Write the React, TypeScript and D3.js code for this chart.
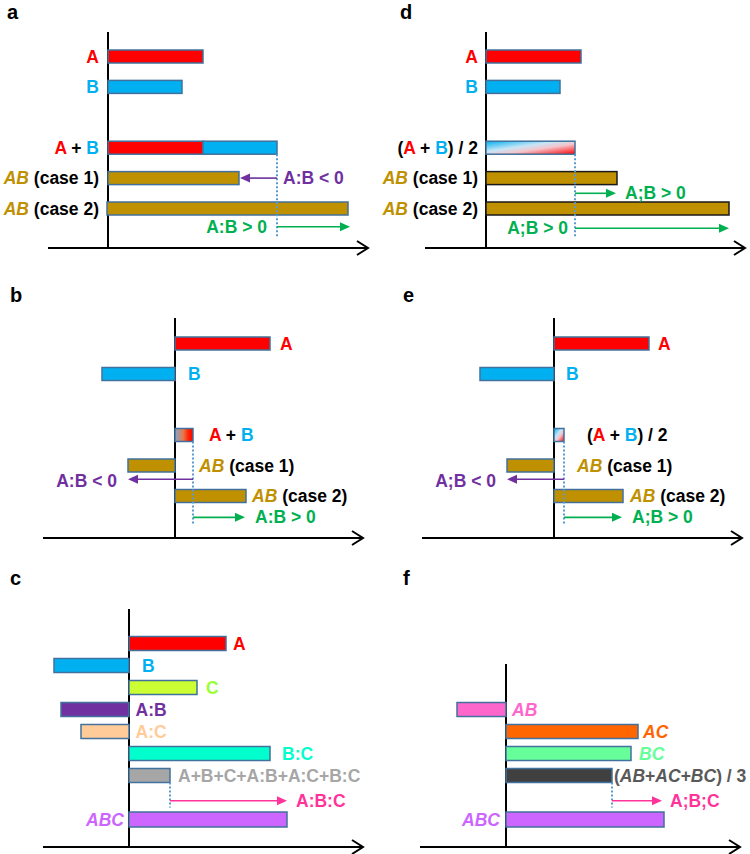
import React from "react";
import * as d3 from "d3";

// ---------------- DATA ----------------
// two-factor panels: rows = A, B, combined, AB case 1, AB case 2
const twoFactorSlots = [0, 1, 3, 4, 5];
const valuesA = [9.5, 7.4, 16.9, 13.1, 24.0];
const valuesD = [9.5, 7.4, 8.9, 13.1, 24.3];
const valuesB = [9.5, -7.3, 1.8, -4.7, 7.1];
const valuesE = [9.5, -7.4, 1.0, -4.7, 6.9];

// three-factor panels
const slotsC = [0, 1, 2, 3, 4, 5, 6, 8];
const namesC = ["A", "B", "C", "A:B", "A:C", "B:C", "A+B+C+A:B+A:C+B:C", "ABC"];
const valuesC = [9.7, -7.5, 6.8, -6.8, -4.8, 14.1, 4.1, 15.8];
const fillsC = ["#FF0000", "#00B0F0", "#CCFF33", "#7030A0", "#FFCC99", "#00FFCC", "#A6A6A6", "#CC66FF"];
const labelColorsC = ["#FF0000", "#00B0F0", "#99FF33", "#7030A0", "#FFCC99", "#00FFCC", "#A6A6A6", "#CC66FF"];

const slotsF = [3, 4, 5, 6, 8];
const namesF = ["AB", "AC", "BC", "(AB+AC+BC) / 3", "ABC"];
const valuesF = [-4.9, 13.2, 12.5, 10.6, 15.8];
const fillsF = ["#FF66CC", "#FF6600", "#66FF99", "#404040", "#CC66FF"];
const labelColorsF = ["#FF66CC", "#FF6600", "#66FF99", "#595959", "#CC66FF"];

// ---------------- STYLE ----------------
const FONT = "'Liberation Sans', Arial, Helvetica, sans-serif";
const FS = 17.5;
const RED = "#FF0000";
const BLUE = "#00B0F0";
const GOLD = "#BF9000";
const PURPLE = "#7030A0";
const GREEN = "#00B050";
const PINK = "#FF3399";
const DOT = "#5B9BD5";
const OUTLINE = "#41719C";
const BLACK = "#000000";

type Seg = { t: string; c: string; i?: boolean };

function Label({ x, y, anchor = "start", segs }: { x: number; y: number; anchor?: string; segs: Seg[] }) {
  return (
    <text x={x} y={y} textAnchor={anchor} fontFamily={FONT} fontWeight="bold" fontSize={FS} style={{ whiteSpace: "pre" }}>
      {segs.map((s, k) => (
        <tspan key={k} fill={s.c} fontStyle={s.i ? "italic" : "normal"}>
          {s.t}
        </tspan>
      ))}
    </text>
  );
}

function Bar({ x, y, v0 = 0, v, row, h, fill, stroke = OUTLINE }: any) {
  const a = x(v0);
  const b = x(v);
  return (
    <rect
      x={Math.min(a, b)}
      y={y(row) - h / 2}
      width={Math.abs(b - a)}
      height={h}
      fill={fill}
      stroke={stroke}
      strokeWidth={1.5}
    />
  );
}

function Arrow({ x1, x2, y, color }: { x1: number; x2: number; y: number; color: string }) {
  const d = Math.sign(x2 - x1);
  const hl = 10;
  const hw = 4.5;
  return (
    <g>
      <line x1={x1} x2={x2 - d * hl + d} y1={y} y2={y} stroke={color} strokeWidth={1.6} />
      <polygon points={`${x2},${y} ${x2 - d * hl},${y - hw} ${x2 - d * hl},${y + hw}`} fill={color} />
    </g>
  );
}

function Axes({ x, yTop, yBot }: { x: any; yTop: number; yBot: number }) {
  const [r0, r1] = x.range();
  return (
    <g>
      <line x1={x(0)} x2={x(0)} y1={yTop} y2={yBot} stroke={BLACK} strokeWidth={2} />
      <line x1={r0} x2={r1} y1={yBot} y2={yBot} stroke={BLACK} strokeWidth={2} />
      <path d={`M${r1 - 11},${yBot - 7} L${r1},${yBot} L${r1 - 11},${yBot + 7}`} fill="none" stroke={BLACK} strokeWidth={2} />
    </g>
  );
}

function Dotted({ x, y1, y2 }: { x: number; y1: number; y2: number }) {
  return <line x1={x} x2={x} y1={y1} y2={y2} stroke={DOT} strokeWidth={2} strokeDasharray="2 2" />;
}

function PanelLetter({ x, y, t }: { x: number; y: number; t: string }) {
  return (
    <text x={x} y={y} fontFamily={FONT} fontWeight="bold" fontSize={20} fill={BLACK}>
      {t}
    </text>
  );
}

const TY = 6; // text baseline offset from row centre

// ---------------- PANELS ----------------
function PanelA() {
  const x = d3.scaleLinear().domain([-6, 26]).range([48, 368]);
  const y = d3.scaleLinear().domain([0, 5]).range([56.5, 208.5]);
  const h = 13;
  const [a, b, tot, c1, c2] = valuesA;
  const s = twoFactorSlots;
  return (
    <g>
      <PanelLetter x={7} y={19} t="a" />
      <Axes x={x} yTop={32} yBot={248} />
      <Bar x={x} y={y} v={a} row={s[0]} h={h} fill={RED} />
      <Bar x={x} y={y} v={b} row={s[1]} h={h} fill={BLUE} />
      <Bar x={x} y={y} v={a} row={s[2]} h={h} fill={RED} />
      <Bar x={x} y={y} v0={a} v={tot} row={s[2]} h={h} fill={BLUE} />
      <Bar x={x} y={y} v={c1} row={s[3]} h={h} fill={GOLD} />
      <Bar x={x} y={y} v0={-0.1} v={c2} row={s[4]} h={h} fill={GOLD} />
      <Dotted x={x(tot)} y1={y(s[2]) + h / 2} y2={y(5.95)} />
      <Arrow x1={x(tot)} x2={x(c1) + 1} y={y(s[3])} color={PURPLE} />
      <Arrow x1={x(tot)} x2={x(c2) + 2} y={y(5.6)} color={GREEN} />
      <Label x={x(tot) + 6} y={y(s[3]) + TY} segs={[{ t: "A:B < 0", c: PURPLE }]} />
      <Label x={x(tot) - 10} y={y(5.6) + TY} anchor="end" segs={[{ t: "A:B > 0", c: GREEN }]} />
      <Label x={x(0) - 9} y={y(s[0]) + TY} anchor="end" segs={[{ t: "A", c: RED }]} />
      <Label x={x(0) - 9} y={y(s[1]) + TY} anchor="end" segs={[{ t: "B", c: BLUE }]} />
      <Label x={x(0) - 9} y={y(s[2]) + TY} anchor="end" segs={[{ t: "A", c: RED }, { t: " + ", c: BLACK }, { t: "B", c: BLUE }]} />
      <Label x={x(0) - 9} y={y(s[3]) + TY} anchor="end" segs={[{ t: "AB", c: GOLD, i: true }, { t: " (case 1)", c: BLACK }]} />
      <Label x={x(0) - 9} y={y(s[4]) + TY} anchor="end" segs={[{ t: "AB", c: GOLD, i: true }, { t: " (case 2)", c: BLACK }]} />
    </g>
  );
}

function PanelD() {
  const x = d3.scaleLinear().domain([-6.1, 25.9]).range([425, 745]);
  const y = d3.scaleLinear().domain([0, 5]).range([56.5, 208.5]);
  const h = 13;
  const [a, b, avg, c1, c2] = valuesD;
  const s = twoFactorSlots;
  return (
    <g>
      <PanelLetter x={400} y={19} t="d" />
      <Axes x={x} yTop={32} yBot={248} />
      <Bar x={x} y={y} v={a} row={s[0]} h={h} fill={RED} />
      <Bar x={x} y={y} v={b} row={s[1]} h={h} fill={BLUE} />
      <Bar x={x} y={y} v={avg} row={s[2]} h={h} fill="url(#gradDiag)" />
      <Bar x={x} y={y} v={c1} row={s[3]} h={h} fill={GOLD} stroke="#1a1a1a" />
      <Bar x={x} y={y} v={c2} row={s[4]} h={h} fill={GOLD} stroke="#1a1a1a" />
      <Dotted x={x(avg)} y1={y(s[2]) + h / 2} y2={y(5.95)} />
      <Arrow x1={x(avg)} x2={x(c1) - 1} y={y(4.5)} color={GREEN} />
      <Arrow x1={x(avg)} x2={x(c2)} y={y(5.65)} color={GREEN} />
      <Label x={x(c1) + 8} y={y(4.5) + TY} segs={[{ t: "A;B > 0", c: GREEN }]} />
      <Label x={x(avg) - 7} y={y(5.65) + TY} anchor="end" segs={[{ t: "A;B > 0", c: GREEN }]} />
      <Label x={x(0) - 8} y={y(s[0]) + TY} anchor="end" segs={[{ t: "A", c: RED }]} />
      <Label x={x(0) - 8} y={y(s[1]) + TY} anchor="end" segs={[{ t: "B", c: BLUE }]} />
      <Label
        x={x(0) - 8}
        y={y(s[2]) + TY}
        anchor="end"
        segs={[{ t: "(", c: BLACK }, { t: "A", c: RED }, { t: " + ", c: BLACK }, { t: "B", c: BLUE }, { t: ") / 2", c: BLACK }]}
      />
      <Label x={x(0) - 8} y={y(s[3]) + TY} anchor="end" segs={[{ t: "AB", c: GOLD, i: true }, { t: " (case 1)", c: BLACK }]} />
      <Label x={x(0) - 8} y={y(s[4]) + TY} anchor="end" segs={[{ t: "AB", c: GOLD, i: true }, { t: " (case 2)", c: BLACK }]} />
    </g>
  );
}

function PanelB() {
  const x = d3.scaleLinear().domain([-13.2, 18.8]).range([43, 363]);
  const y = d3.scaleLinear().domain([0, 5]).range([343.5, 496]);
  const h = 13;
  const [a, b, sum, c1, c2] = valuesB;
  const s = twoFactorSlots;
  return (
    <g>
      <PanelLetter x={10} y={302} t="b" />
      <Axes x={x} yTop={318} yBot={538} />
      <Bar x={x} y={y} v={a} row={s[0]} h={h} fill={RED} />
      <Bar x={x} y={y} v={b} row={s[1]} h={h} fill={BLUE} />
      <Bar x={x} y={y} v={sum} row={s[2]} h={h} fill="url(#gradH)" />
      <Bar x={x} y={y} v={c1} row={s[3]} h={h} fill={GOLD} />
      <Bar x={x} y={y} v={c2} row={s[4]} h={h} fill={GOLD} />
      <Dotted x={x(sum)} y1={y(s[2]) + h / 2} y2={y(5.95)} />
      <Arrow x1={x(sum)} x2={x(c1)} y={y(4.45)} color={PURPLE} />
      <Arrow x1={x(sum)} x2={x(c2) - 1} y={y(5.7)} color={GREEN} />
      <Label x={x(c1) - 11} y={y(4.45) + 8} anchor="end" segs={[{ t: "A:B < 0", c: PURPLE }]} />
      <Label x={x(c2) + 9} y={y(5.7) + TY} segs={[{ t: "A:B > 0", c: GREEN }]} />
      <Label x={x(a) + 10} y={y(s[0]) + TY} segs={[{ t: "A", c: RED }]} />
      <Label x={x(0) + 13} y={y(s[1]) + TY} segs={[{ t: "B", c: BLUE }]} />
      <Label x={x(sum) + 16} y={y(s[2]) + TY} segs={[{ t: "A", c: RED }, { t: " + ", c: BLACK }, { t: "B", c: BLUE }]} />
      <Label x={x(0) + 24} y={y(s[3]) + TY} segs={[{ t: "AB", c: GOLD, i: true }, { t: " (case 1)", c: BLACK }]} />
      <Label x={x(c2) + 6} y={y(s[4]) + TY} segs={[{ t: "AB", c: GOLD, i: true }, { t: " (case 2)", c: BLACK }]} />
    </g>
  );
}

function PanelE() {
  const x = d3.scaleLinear().domain([-13.2, 18.8]).range([422, 742]);
  const y = d3.scaleLinear().domain([0, 5]).range([343.5, 496]);
  const h = 13;
  const [a, b, avg, c1, c2] = valuesE;
  const s = twoFactorSlots;
  return (
    <g>
      <PanelLetter x={403} y={302} t="e" />
      <Axes x={x} yTop={318} yBot={538} />
      <Bar x={x} y={y} v={a} row={s[0]} h={h} fill={RED} />
      <Bar x={x} y={y} v={b} row={s[1]} h={h} fill={BLUE} />
      <Bar x={x} y={y} v={avg} row={s[2]} h={h} fill="url(#gradDiag)" />
      <Bar x={x} y={y} v={c1} row={s[3]} h={h} fill={GOLD} />
      <Bar x={x} y={y} v={c2} row={s[4]} h={h} fill={GOLD} />
      <Dotted x={x(avg)} y1={y(s[2]) + h / 2} y2={y(5.95)} />
      <Arrow x1={x(avg)} x2={x(c1)} y={y(4.45)} color={PURPLE} />
      <Arrow x1={x(avg)} x2={x(c2) - 1} y={y(5.7)} color={GREEN} />
      <Label x={x(c1) - 11} y={y(4.45) + 8} anchor="end" segs={[{ t: "A;B < 0", c: PURPLE }]} />
      <Label x={x(c2) + 9} y={y(5.7) + TY} segs={[{ t: "A;B > 0", c: GREEN }]} />
      <Label x={x(a) + 9} y={y(s[0]) + TY} segs={[{ t: "A", c: RED }]} />
      <Label x={x(0) + 12} y={y(s[1]) + TY} segs={[{ t: "B", c: BLUE }]} />
      <Label
        x={x(avg) + 23}
        y={y(s[2]) + TY}
        segs={[{ t: "(", c: BLACK }, { t: "A", c: RED }, { t: " + ", c: BLACK }, { t: "B", c: BLUE }, { t: ") / 2", c: BLACK }]}
      />
      <Label x={x(0) + 23} y={y(s[3]) + TY} segs={[{ t: "AB", c: GOLD, i: true }, { t: " (case 1)", c: BLACK }]} />
      <Label x={x(c2) + 7} y={y(s[4]) + TY} segs={[{ t: "AB", c: GOLD, i: true }, { t: " (case 2)", c: BLACK }]} />
    </g>
  );
}

function PanelC() {
  const x = d3.scaleLinear().domain([-8.6, 23.4]).range([43, 363]);
  const y = d3.scaleLinear().domain([0, 8]).range([643.5, 819.5]);
  const h = 14;
  const sum = valuesC[6];
  const abc = valuesC[7];
  const labelX = (i: number) => {
    const v = valuesC[i];
    if (i === 7) return x(0) - 5;
    if (v < 0) return x(0) + (i === 1 ? 13 : 6.5);
    return x(v) + (i === 0 ? 7 : i === 2 ? 9 : i === 5 ? 12 : 8);
  };
  return (
    <g>
      <PanelLetter x={10} y={585} t="c" />
      <Axes x={x} yTop={609} yBot={847} />
      {valuesC.map((v, i) => (
        <Bar key={i} x={x} y={y} v={v} row={slotsC[i]} h={i === 7 ? 15 : h} fill={fillsC[i]} />
      ))}
      <Dotted x={x(sum)} y1={y(slotsC[6]) + h / 2} y2={y(7.45)} />
      <Arrow x1={x(sum)} x2={x(abc)} y={y(7.15)} color={PINK} />
      <Label x={x(abc) + 9} y={y(7.15) + TY} segs={[{ t: "A:B:C", c: PINK }]} />
      {namesC.map((n, i) => (
        <Label
          key={n}
          x={labelX(i)}
          y={y(slotsC[i]) + TY}
          anchor={i === 7 ? "end" : "start"}
          segs={[{ t: n, c: labelColorsC[i], i: i === 7 }]}
        />
      ))}
    </g>
  );
}

function PanelF() {
  const x = d3.scaleLinear().domain([-8.6, 23.4]).range([420, 740]);
  const y = d3.scaleLinear().domain([0, 8]).range([643.5, 819.5]);
  const h = 14;
  const avg = valuesF[3];
  const offs = [6, 5, 8, 2];
  const avgSegs: Seg[] = [
    { t: "(", c: labelColorsF[3] },
    { t: "AB", c: labelColorsF[3], i: true },
    { t: "+", c: labelColorsF[3] },
    { t: "AC", c: labelColorsF[3], i: true },
    { t: "+", c: labelColorsF[3] },
    { t: "BC", c: labelColorsF[3], i: true },
    { t: ") / 3", c: labelColorsF[3] },
  ];
  return (
    <g>
      <PanelLetter x={403} y={585} t="f" />
      <Axes x={x} yTop={664} yBot={847} />
      {valuesF.map((v, i) => (
        <Bar key={i} x={x} y={y} v={v} row={slotsF[i]} h={i === 4 ? 15 : h} fill={fillsF[i]} />
      ))}
      <Dotted x={x(avg)} y1={y(slotsF[3]) + h / 2} y2={y(7.45)} />
      <Arrow x1={x(avg)} x2={x(avg) + 50} y={y(7.15)} color={PINK} />
      <Label x={x(avg) + 58} y={y(7.15) + TY} segs={[{ t: "A;B;C", c: PINK }]} />
      {namesF.map((n, i) => {
        const v = valuesF[i];
        if (i === 4)
          return <Label key={n} x={x(0) - 6} y={y(slotsF[i]) + TY} anchor="end" segs={[{ t: n, c: labelColorsF[i], i: true }]} />;
        const lx = v < 0 ? x(0) + offs[i] : x(v) + offs[i];
        const segs = i === 3 ? avgSegs : [{ t: n, c: labelColorsF[i], i: true }];
        return <Label key={n} x={lx} y={y(slotsF[i]) + TY} segs={segs} />;
      })}
    </g>
  );
}

export default function App() {
  return (
    <svg width={750} height={854} style={{ position: "absolute", left: 0, top: 0, background: "#fff" }}>
      <defs>
        <linearGradient id="gradDiag" x1="0" y1="0" x2="1" y2="1">
          <stop offset="0" stopColor="#00B0F0" />
          <stop offset="0.4" stopColor="#c6e6f6" />
          <stop offset="0.6" stopColor="#f4c4cb" />
          <stop offset="1" stopColor="#FF0000" />
        </linearGradient>
        <linearGradient id="gradH" x1="0" y1="0" x2="1" y2="0">
          <stop offset="0" stopColor="#7FA7CC" />
          <stop offset="0.45" stopColor="#E87A4C" />
          <stop offset="0.75" stopColor="#FF2200" />
          <stop offset="1" stopColor="#FF0000" />
        </linearGradient>
      </defs>
      <rect x={0} y={0} width={750} height={854} fill="#fff" />
      <PanelA />
      <PanelD />
      <PanelB />
      <PanelE />
      <PanelC />
      <PanelF />
    </svg>
  );
}
